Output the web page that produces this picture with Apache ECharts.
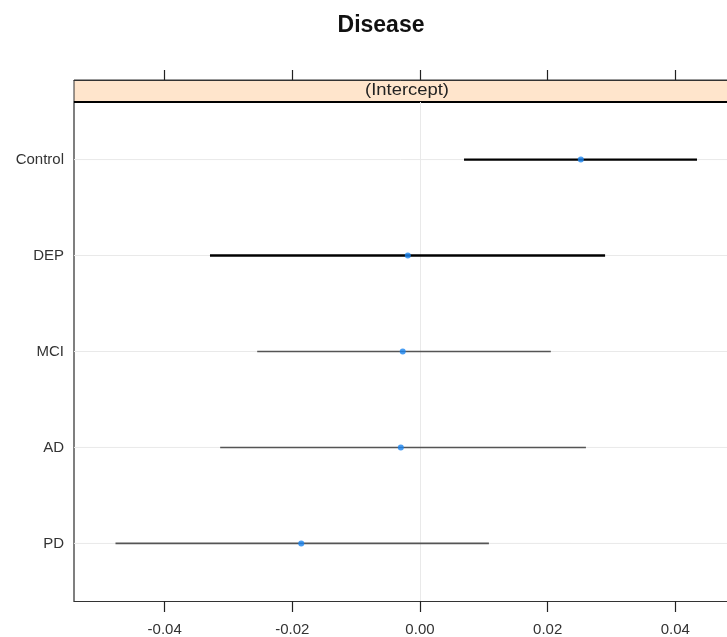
<!DOCTYPE html>
<html>
<head>
<meta charset="utf-8">
<script src="https://cdn.jsdelivr.net/npm/echarts@6/dist/echarts.min.js"></script>
<style>
  html, body { margin: 0; padding: 0; background: #fff; }
  #chart { width: 727px; height: 637px; }
</style>
</head>
<body>
<div id="chart"></div>
<script>
// Data (top to bottom)
const categories = ["Control", "DEP", "MCI", "AD", "PD"];
const estimates = [0.0252, -0.0019, -0.0027, -0.0030, -0.0186];
const lower = [0.0069, -0.0329, -0.0255, -0.0313, -0.0477];
const upper = [0.0434, 0.0290, 0.0205, 0.0260, 0.0108];
const tickValues = [-0.04, -0.02, 0.0, 0.02, 0.04];
const panelLabel = "(Intercept)";

const rowIdx = categories.map((_, i) => i + 1);

const chart = echarts.init(document.getElementById("chart"));
const fontFamily = "Liberation Sans, Arial, sans-serif";

const option = {
  animation: false,
  backgroundColor: "#fff",
  title: {
    text: "Disease",
    left: 376,
    top: 9,
    textAlign: "center",
    textStyle: { fontFamily, fontSize: 23, fontWeight: "bold", color: "#111" },
  },
  grid: { left: 74, right: 0, top: 102, bottom: 36 },
  xAxis: [
    {
      type: "value",
      position: "bottom",
      min: -0.0542,
      max: 0.0481,
      axisLine: { show: true, onZero: false, lineStyle: { color: "#333", width: 1.2 } },
      axisTick: { show: true, length: 11, customValues: tickValues, lineStyle: { color: "#222", width: 1.2 } },
      axisLabel: {
        customValues: tickValues,
        margin: 21,
        fontFamily,
        fontSize: 15,
        color: "#333",
        formatter: (v) => v.toFixed(2),
      },
      splitLine: { show: false },
    },
    {
      type: "value",
      position: "top",
      offset: 22,
      min: -0.0542,
      max: 0.0481,
      axisLine: { show: true, onZero: false, lineStyle: { color: "#333", width: 1 } },
      axisTick: { show: true, length: 10, customValues: tickValues, lineStyle: { color: "#222", width: 1.2 } },
      axisLabel: { show: false },
      splitLine: { show: false },
    },
  ],
  yAxis: {
    type: "value",
    min: 0.4,
    max: 5.6,
    inverse: true,
    position: "left",
    axisLine: { show: true, onZero: false, lineStyle: { color: "#555", width: 1.5 } },
    axisTick: { show: false },
    axisLabel: {
      customValues: rowIdx,
      margin: 10,
      fontFamily,
      fontSize: 15,
      color: "#333",
      formatter: (v) => categories[Math.round(v) - 1] || "",
    },
    splitLine: { show: false },
  },
  graphic: [
    {
      type: "rect",
      shape: { x: 74, y: 80, width: 670, height: 22 },
      style: { fill: "#ffe5cc", stroke: "#333", lineWidth: 1 },
      z: 0,
    },
    {
      type: "line",
      shape: { x1: 74, y1: 102, x2: 727, y2: 102 },
      style: { stroke: "#000", lineWidth: 2 },
      z: 1,
    },
    {
      type: "text",
      x: 407,
      y: 91,
      scaleX: 1.15,
      style: {
        text: panelLabel,
        align: "center",
        verticalAlign: "middle",
        font: "16px " + fontFamily,
        fill: "#222",
      },
      z: 2,
    },
  ],
  series: [
    {
      type: "custom",
      xAxisIndex: 0,
      data: categories.map((c, i) => [rowIdx[i], lower[i], upper[i]]),
      encode: { x: [1, 2], y: 0 },
      renderItem: (params, api) => {
        const a = api.coord([api.value(1), api.value(0)]);
        const b = api.coord([api.value(2), api.value(0)]);
        const cs = params.coordSys;
        const bold = params.dataIndex < 2;
        return {
          type: "group",
          children: [
            {
              type: "line",
              shape: { x1: cs.x, y1: a[1], x2: cs.x + cs.width, y2: a[1] },
              style: { stroke: "#e9e9e9", lineWidth: 1 },
              z2: 0,
            },
            {
              type: "line",
              shape: { x1: a[0], y1: a[1], x2: b[0], y2: b[1] },
              style: { stroke: bold ? "#000" : "#555", lineWidth: bold ? 2.4 : 1.6 },
              z2: 5,
            },
          ],
        };
      },
      markLine: {
        silent: true,
        symbol: "none",
        label: { show: false },
        lineStyle: { color: "#e9e9e9", width: 1, type: "solid" },
        data: [{ xAxis: 0 }],
        z: 1,
      },
      z: 2,
    },
    {
      type: "scatter",
      xAxisIndex: 0,
      data: estimates.map((v, i) => [v, rowIdx[i]]),
      symbol: "circle",
      symbolSize: 6,
      itemStyle: { color: "#1a84f0" },
      z: 5,
    },
  ],
};

chart.setOption(option);
</script>
</body>
</html>
